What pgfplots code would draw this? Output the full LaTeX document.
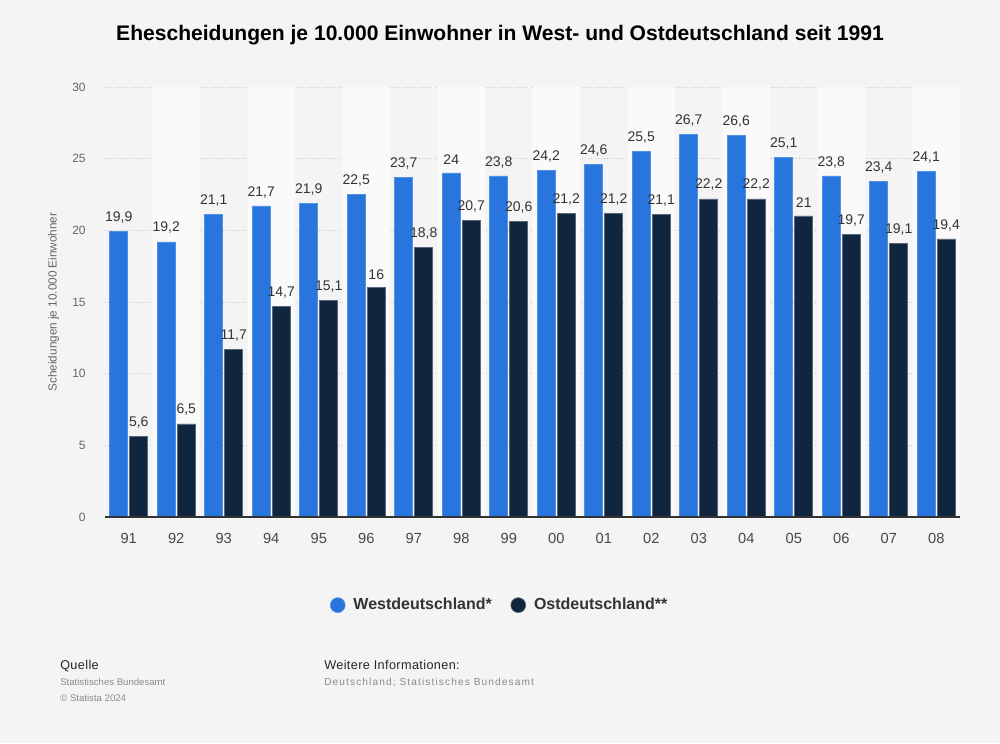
\documentclass[border=0pt]{standalone}
\usepackage{fontspec}
\setmainfont{Liberation Sans}
\usepackage{pgfplots}
\pgfplotsset{compat=1.18}
\definecolor{bg}{HTML}{F4F4F4}
\definecolor{stripe}{HTML}{FAFAFA}
\definecolor{west}{HTML}{2876DD}
\definecolor{east}{HTML}{10263F}
\definecolor{gridc}{HTML}{C4C4C4}
\definecolor{txt}{HTML}{333333}
\definecolor{tickc}{HTML}{666666}
\definecolor{foot}{HTML}{8A8A8A}
\begin{document}
\begin{tikzpicture}[x=0.75pt,y=0.75pt]
\fill[bg] (0,0) rectangle (1000,743);
\node[font=\fontsize{15.8}{18}\selectfont\bfseries, text=black] at (500,708) {Ehescheidungen je 10.000 Einwohner in West- und Ostdeutschland seit 1991};
\begin{axis}[
  at={(78.75pt,169.5pt)}, anchor=south west,
  scale only axis, width=641.25pt, height=322.5pt,
  xmin=-0.5, xmax=17.5, ymin=0, ymax=30,
  ybar,
  axis x line=bottom, axis y line=left,
  x axis line style={draw=none},
  y axis line style={draw=none},
  ytick={0,5,...,30},
  xtick={0,...,17},
  xticklabels={91,92,93,94,95,96,97,98,99,00,01,02,03,04,05,06,07,08},
  tick style={draw=none}, major tick length=0pt,
  ymajorgrids, grid style={dotted, draw=gridc, line width=0.7pt},
  yticklabel style={font=\fontsize{9}{10}\selectfont, text=tickc, xshift=-11pt},
  xticklabel style={font=\fontsize{11}{12}\selectfont, text=txt!90, yshift=-9pt},
  ylabel={Scheidungen je 10.000 Einwohner},
  ylabel style={font=\fontsize{8.8}{10}\selectfont, text=tickc, at={(axis description cs:-0.06,0.5)}, anchor=center},
  /pgf/number format/.cd, use comma, 1000 sep={.}, assume math mode=true,
  /pgfplots/.cd,
  every node near coord/.append style={font=\fontsize{10.5}{12}\selectfont, text=txt, yshift=2.5pt},
  legend style={at={(0.462,-0.205)}, anchor=center, draw=none, fill=none,
    legend columns=2, font=\fontsize{12}{14}\selectfont\bfseries, text=txt,
    /tikz/every odd column/.append style={column sep=4pt},
    /tikz/every even column/.append style={column sep=12pt}},
  legend image code/.code={\fill (0pt,0pt) circle (5.6pt);},
]
\addplot[bar width=1, bar shift=0pt, fill=stripe, draw=none, forget plot]
  coordinates {(1,30)(3,30)(5,30)(7,30)(9,30)(11,30)(13,30)(15,30)(17,30)};
\addplot[bar width=13.5pt, bar shift=-7.5pt, fill=west, draw=west!80!white, line width=0.4pt, nodes near coords]
  coordinates {(0,19.9)(1,19.2)(2,21.1)(3,21.7)(4,21.9)(5,22.5)(6,23.7)(7,24)(8,23.8)(9,24.2)(10,24.6)(11,25.5)(12,26.7)(13,26.6)(14,25.1)(15,23.8)(16,23.4)(17,24.1)};
\addlegendentry{Westdeutschland*}
\addplot[bar width=13.5pt, bar shift=7.5pt, fill=east, draw=east!70!white, line width=0.4pt, nodes near coords]
  coordinates {(0,5.6)(1,6.5)(2,11.7)(3,14.7)(4,15.1)(5,16)(6,18.8)(7,20.7)(8,20.6)(9,21.2)(10,21.2)(11,21.1)(12,22.2)(13,22.2)(14,21)(15,19.7)(16,19.1)(17,19.4)};
\addlegendentry{Ostdeutschland**}
\draw[txt, line width=1.1pt] (axis cs:-0.5,0) -- (axis cs:17.5,0);
\end{axis}
\node[anchor=base west, inner sep=0pt, font=\fontsize{9.5}{11}\selectfont\addfontfeature{LetterSpace=3}, text=black!85] at (60,74) {Quelle};
\node[anchor=base west, inner sep=0pt, font=\fontsize{7.2}{9}\selectfont, text=foot] at (60,57) {Statistisches Bundesamt};
\node[anchor=base west, inner sep=0pt, font=\fontsize{7.2}{9}\selectfont, text=foot] at (60,41) {© Statista 2024};
\node[anchor=base west, inner sep=0pt, font=\fontsize{9.5}{11}\selectfont\addfontfeature{LetterSpace=3}, text=black!85] at (324,74) {Weitere Informationen:};
\node[anchor=base west, inner sep=0pt, font=\fontsize{7.6}{9}\selectfont\addfontfeature{LetterSpace=11}, text=foot] at (324,57) {Deutschland; Statistisches Bundesamt};
\end{tikzpicture}
\end{document}
